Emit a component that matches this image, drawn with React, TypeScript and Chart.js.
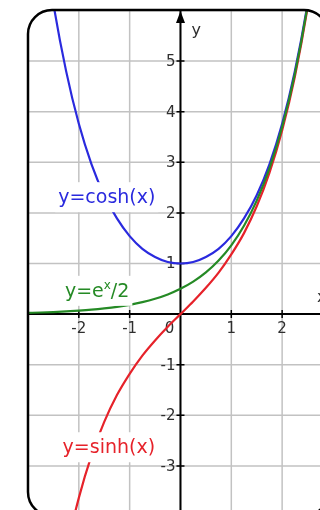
import { useEffect, useRef } from "react";
import { Chart, registerables } from "chart.js";

Chart.register(...registerables);

// Sample abscissas for the three curves
const xValues = [-3, -2.75, -2.5, -2.25, -2, -1.75, -1.5, -1.25, -1, -0.75, -0.5, -0.25, 0, 0.25, 0.5, 0.75, 1, 1.25, 1.5, 1.75, 2, 2.25, 2.5, 2.75, 3];
// y = cosh(x)
const coshValues = [10.07, 7.85, 6.13, 4.8, 3.76, 2.96, 2.35, 1.89, 1.54, 1.29, 1.13, 1.03, 1.0, 1.03, 1.13, 1.29, 1.54, 1.89, 2.35, 2.96, 3.76, 4.8, 6.13, 7.85, 10.07];
// y = sinh(x)
const sinhValues = [-10.02, -7.79, -6.05, -4.69, -3.63, -2.79, -2.13, -1.6, -1.18, -0.82, -0.52, -0.25, 0, 0.25, 0.52, 0.82, 1.18, 1.6, 2.13, 2.79, 3.63, 4.69, 6.05, 7.79, 10.02];
// y = e^x / 2
const halfExpValues = [0.025, 0.032, 0.041, 0.053, 0.068, 0.087, 0.112, 0.143, 0.184, 0.236, 0.303, 0.389, 0.5, 0.642, 0.824, 1.059, 1.359, 1.745, 2.241, 2.877, 3.695, 4.744, 6.091, 7.821, 10.04];

const xTickLabels = [-2, -1, 0, 1, 2];
const yTickLabels = [-3, -2, -1, 1, 2, 3, 4, 5];

const BLUE = "#2a2ade";
const GREEN = "#258a25";
const RED = "#e6222a";
const FONT = '"DejaVu Sans", Verdana, sans-serif';

type Box = { left: number; top: number; right: number; bottom: number; r: number };

function frameBox(area: { left: number; top: number; right: number; bottom: number }): Box {
  return { left: area.left, top: area.top, right: area.right + 8, bottom: area.bottom + 6, r: 24 };
}

function roundedPath(ctx: CanvasRenderingContext2D, b: Box) {
  ctx.beginPath();
  ctx.moveTo(b.left + b.r, b.top);
  ctx.lineTo(b.right - b.r, b.top);
  ctx.arcTo(b.right, b.top, b.right, b.top + b.r, b.r);
  ctx.lineTo(b.right, b.bottom - b.r);
  ctx.arcTo(b.right, b.bottom, b.right - b.r, b.bottom, b.r);
  ctx.lineTo(b.left + b.r, b.bottom);
  ctx.arcTo(b.left, b.bottom, b.left, b.bottom - b.r, b.r);
  ctx.lineTo(b.left, b.top + b.r);
  ctx.arcTo(b.left, b.top, b.left + b.r, b.top, b.r);
  ctx.closePath();
}

type Part = { text: string; sup?: boolean };

// Curve caption on a white plate that hides grid and curve behind it
function drawCaption(ctx: CanvasRenderingContext2D, parts: Part[], cx: number, cy: number, color: string) {
  const mainFont = `19px ${FONT}`;
  const supFont = `12px ${FONT}`;
  const widths = parts.map((p) => {
    ctx.font = p.sup ? supFont : mainFont;
    return ctx.measureText(p.text).width;
  });
  const total = widths.reduce((a, b) => a + b, 0);
  ctx.fillStyle = "#ffffff";
  ctx.fillRect(cx - total / 2 - 3, cy - 15, total + 6, 30);
  let x = cx - total / 2;
  const baseline = cy + 6;
  ctx.fillStyle = color;
  ctx.textAlign = "left";
  ctx.textBaseline = "alphabetic";
  parts.forEach((p, i) => {
    ctx.font = p.sup ? supFont : mainFont;
    ctx.fillText(p.text, x, p.sup ? baseline - 8 : baseline);
    x += widths[i];
  });
}

const axesPlugin = {
  id: "hyperbolicAxes",
  beforeDatasetsDraw(chart: any) {
    const { ctx, chartArea, scales } = chart;
    const xs = scales.x;
    const ys = scales.y;
    const b = frameBox(chartArea);
    ctx.save();
    roundedPath(ctx, b);
    ctx.clip();

    // unit grid
    ctx.strokeStyle = "#c2c2c2";
    ctx.lineWidth = 1.5;
    for (let v = Math.ceil(xs.min); v <= Math.floor(xs.max) + 1; v++) {
      const px = xs.getPixelForValue(v);
      ctx.beginPath();
      ctx.moveTo(px, b.top);
      ctx.lineTo(px, b.bottom);
      ctx.stroke();
    }
    for (let v = Math.ceil(ys.min) - 1; v <= Math.floor(ys.max); v++) {
      const py = ys.getPixelForValue(v);
      ctx.beginPath();
      ctx.moveTo(b.left, py);
      ctx.lineTo(b.right, py);
      ctx.stroke();
    }

    const ox = xs.getPixelForValue(0);
    const oy = ys.getPixelForValue(0);

    // axes
    ctx.strokeStyle = "#000000";
    ctx.lineWidth = 2;
    ctx.beginPath();
    ctx.moveTo(ox, b.top);
    ctx.lineTo(ox, b.bottom);
    ctx.moveTo(b.left, oy);
    ctx.lineTo(b.right, oy);
    ctx.stroke();

    // tick marks
    ctx.lineWidth = 1.5;
    ctx.beginPath();
    xTickLabels.forEach((v) => {
      if (v === 0) return;
      const px = xs.getPixelForValue(v);
      ctx.moveTo(px, oy - 4);
      ctx.lineTo(px, oy + 4);
    });
    yTickLabels.forEach((v) => {
      const py = ys.getPixelForValue(v);
      ctx.moveTo(ox - 4, py);
      ctx.lineTo(ox + 4, py);
    });
    ctx.stroke();

    // tick labels
    ctx.fillStyle = "#2e2e2e";
    ctx.font = `15px ${FONT}`;
    ctx.textBaseline = "middle";
    ctx.textAlign = "center";
    xTickLabels.forEach((v) => {
      const px = xs.getPixelForValue(v);
      ctx.fillText(String(v), v === 0 ? px - 11 : px, oy + 15);
    });
    ctx.textAlign = "right";
    yTickLabels.forEach((v) => {
      const py = ys.getPixelForValue(v);
      ctx.fillText(String(v), ox - 5, py + 1);
    });
    // clip stays active while the curves are drawn
  },
  afterDatasetsDraw(chart: any) {
    const { ctx, chartArea, scales } = chart;
    ctx.restore();
    const xs = scales.x;
    const ys = scales.y;
    const b = frameBox(chartArea);

    drawCaption(ctx, [{ text: "y=cosh(x)" }], xs.getPixelForValue(-1.45), ys.getPixelForValue(2.31), BLUE);
    drawCaption(ctx, [{ text: "y=e" }, { text: "x", sup: true }, { text: "/2" }], xs.getPixelForValue(-1.64), ys.getPixelForValue(0.46), GREEN);
    drawCaption(ctx, [{ text: "y=sinh(x)" }], xs.getPixelForValue(-1.41), ys.getPixelForValue(-2.63), RED);

    const ox = xs.getPixelForValue(0);
    // arrow head on the y axis
    ctx.fillStyle = "#000000";
    ctx.beginPath();
    ctx.moveTo(ox, b.top + 1);
    ctx.lineTo(ox - 4.5, b.top + 13);
    ctx.lineTo(ox + 4.5, b.top + 13);
    ctx.closePath();
    ctx.fill();

    // axis names
    ctx.fillStyle = "#2e2e2e";
    ctx.font = `16px ${FONT}`;
    ctx.textAlign = "left";
    ctx.textBaseline = "alphabetic";
    ctx.fillText("y", ox + 11, b.top + 25);
    ctx.fillText("x", 317, ys.getPixelForValue(0) - 12);

    // rounded frame
    ctx.strokeStyle = "#000000";
    ctx.lineWidth = 2.5;
    roundedPath(ctx, b);
    ctx.stroke();
  },
};

function series(values: number[]) {
  return xValues.map((x, i) => ({ x, y: values[i] }));
}

export default function App() {
  const canvasRef = useRef<HTMLCanvasElement | null>(null);

  useEffect(() => {
    const canvas = canvasRef.current;
    if (!canvas) return;
    const common = {
      showLine: true,
      pointRadius: 0,
      borderWidth: 2.2,
      fill: false,
      cubicInterpolationMode: "monotone" as const,
    };
    const chart = new Chart(canvas, {
      type: "scatter",
      data: {
        datasets: [
          { ...common, label: "y=e^x/2", data: series(halfExpValues), borderColor: GREEN, backgroundColor: GREEN },
          { ...common, label: "y=sinh(x)", data: series(sinhValues), borderColor: RED, backgroundColor: RED },
          { ...common, label: "y=cosh(x)", data: series(coshValues), borderColor: BLUE, backgroundColor: BLUE },
        ],
      },
      options: {
        responsive: false,
        animation: false,
        layout: { padding: { left: 28, top: 10, right: 0, bottom: 0 } },
        scales: {
          x: { type: "linear", display: false, min: -3, max: 2.745 },
          y: { type: "linear", display: false, min: -3.87, max: 6.008 },
        },
        plugins: { legend: { display: false }, tooltip: { enabled: false } },
      },
      plugins: [axesPlugin],
    });
    return () => chart.destroy();
  }, []);

  return (
    <div style={{ position: "fixed", left: 0, top: 0, width: 320, height: 510, background: "#ffffff" }}>
      <canvas ref={canvasRef} width={320} height={510} style={{ display: "block" }} />
    </div>
  );
}
